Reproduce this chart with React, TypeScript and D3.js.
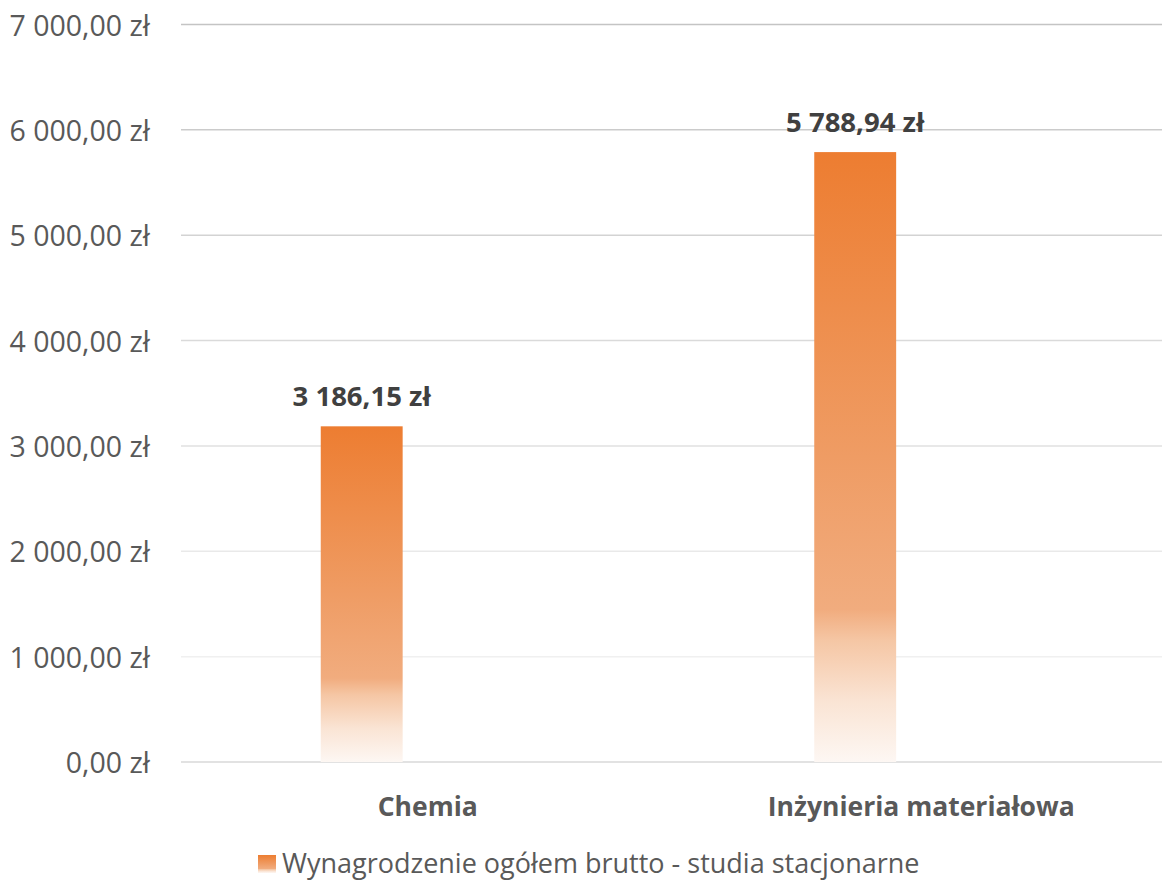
import React from "react";
import * as d3 from "d3";

const categories = ["Chemia", "Inżynieria materiałowa"];
const seriesName = "Wynagrodzenie ogółem brutto - studia stacjonarne";
const values = [3186.15, 5788.94];
const yTicks = [0, 1000, 2000, 3000, 4000, 5000, 6000, 7000];

const W = 1162;
const H = 881;
const FONT = "'Open Sans', 'Noto Sans', sans-serif";

const fmt = (v: number) => {
  const s = v.toFixed(2);
  const [int, dec] = s.split(".");
  const intS = int.replace(/\B(?=(\d{3})+(?!\d))/g, " ");
  return `${intS},${dec} zł`;
};

export default function App() {
  const plotLeft = 181;
  const plotRight = 1168;
  const y = d3.scaleLinear().domain([0, 7000]).range([762, 24.5]);
  const x = d3.scaleBand<string>().domain(categories).range([plotLeft, plotRight]).padding(0);
  const sub = d3.scaleBand<string>().domain(["s0", "s1"]).range([-107, 107]).paddingInner(0.38).paddingOuter(0);
  const gridColor = d3.scaleLinear<string>().domain([1000, 7000]).range(["#f0f0f0", "#c4c4c4"]);

  return (
    <svg width={W} height={H} style={{ position: "absolute", left: 0, top: 0, background: "#fff" }}>
      <defs>
        <linearGradient id="barGrad" x1="0" y1="0" x2="0" y2="1">
          <stop offset="0" stopColor="#ED7D31" />
          <stop offset="0.5" stopColor="#EF9C64" />
          <stop offset="0.75" stopColor="#F1AC7E" />
          <stop offset="0.8" stopColor="#F5C6A4" />
          <stop offset="0.9" stopColor="#FAE4D4" />
          <stop offset="1" stopColor="#FDF7F3" />
        </linearGradient>
      </defs>
      {yTicks.map((t) => (
        <g key={t}>
          <line
            x1={plotLeft}
            x2={W}
            y1={y(t)}
            y2={y(t)}
            stroke={t === 0 ? "#d9d9d9" : gridColor(t)}
            strokeWidth={1.5}
          />
          <text
            x={150}
            y={y(t)}
            textAnchor="end"
            dominantBaseline="central"
            fontFamily={FONT}
            fontSize={28.5}
            fill="#595959"
          >
            {fmt(t)}
          </text>
        </g>
      ))}
      {categories.map((c, i) => {
        const cx = (x(c) as number) + x.bandwidth() / 2;
        const bx = cx + (sub("s0") as number);
        const bw = sub.bandwidth();
        return (
          <g key={c}>
            <rect x={bx} y={y(values[i])} width={bw} height={y(0) - y(values[i])} fill="url(#barGrad)" />
            <text
              x={bx + bw / 2}
              y={y(values[i]) - 20}
              textAnchor="middle"
              fontFamily={FONT}
              fontWeight="bold"
              fontSize={27.5}
              fill="#404040"
            >
              {fmt(values[i])}
            </text>
            <text
              x={cx}
              y={816}
              textAnchor="middle"
              fontFamily={FONT}
              fontWeight="bold"
              fontSize={26.5}
              fill="#595959"
            >
              {c}
            </text>
          </g>
        );
      })}
      <g>
        <rect x={258} y={855} width={18} height={18} fill="url(#barGrad)" />
        <text x={282} y={873} fontFamily={FONT} fontSize={27} fill="#595959">
          {seriesName}
        </text>
      </g>
    </svg>
  );
}
